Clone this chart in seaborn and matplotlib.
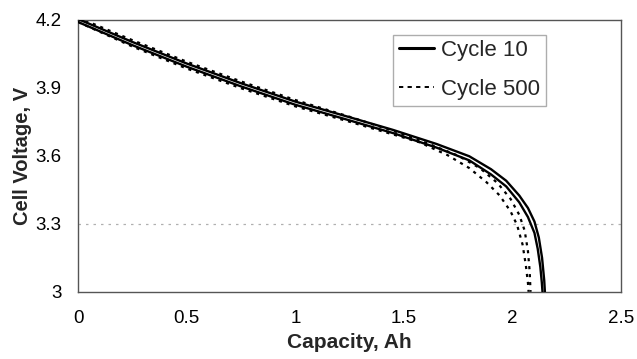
import matplotlib
matplotlib.use("Agg")
import matplotlib.pyplot as plt
import seaborn as sns
import pandas as pd
from matplotlib.lines import Line2D

# ---- data ----
q_c10a = [0, 0.25, 0.5, 0.75, 1.0, 1.25, 1.45, 1.65, 1.8, 1.9, 1.97, 2.03, 2.07, 2.1, 2.12, 2.135, 2.145, 2.148]
v_c10a = [4.203, 4.102, 4.007, 3.920, 3.839, 3.770, 3.714, 3.652, 3.598, 3.541, 3.490, 3.425, 3.37, 3.31, 3.24, 3.15, 3.05, 3.0]

q_c10b = [0, 0.25, 0.5, 0.75, 1.0, 1.25, 1.45, 1.65, 1.8, 1.9, 1.97, 2.03, 2.07, 2.1, 2.115, 2.127, 2.134, 2.137]
v_c10b = [4.19, 4.088, 3.993, 3.906, 3.825, 3.756, 3.700, 3.636, 3.580, 3.518, 3.465, 3.395, 3.33, 3.26, 3.19, 3.11, 3.04, 3.0]

q_c500a = [0, 0.25, 0.5, 0.75, 1.0, 1.25, 1.45, 1.6, 1.75, 1.85, 1.93, 1.99, 2.03, 2.055, 2.07, 2.078, 2.082]
v_c500a = [4.21, 4.11, 4.015, 3.928, 3.846, 3.772, 3.71, 3.658, 3.6, 3.545, 3.48, 3.41, 3.34, 3.27, 3.18, 3.09, 3.0]

q_c500b = [0, 0.25, 0.5, 0.75, 1.0, 1.25, 1.45, 1.57, 1.7, 1.8, 1.88, 1.94, 1.99, 2.02, 2.045, 2.06, 2.07, 2.073]
v_c500b = [4.19, 4.082, 3.985, 3.898, 3.818, 3.75, 3.694, 3.66, 3.603, 3.546, 3.483, 3.425, 3.355, 3.295, 3.21, 3.12, 3.04, 3.0]

legend_labels = ["Cycle 10", "Cycle 500"]
x_ticks = [0, 0.5, 1, 1.5, 2, 2.5]
x_ticklabels = ["0", "0.5", "1", "1.5", "2", "2.5"]
y_ticks = [3, 3.3, 3.6, 3.9, 4.2]
y_ticklabels = ["3", "3.3", "3.6", "3.9", "4.2"]
cutoff_voltage = 3.3

# ---- plot ----
sns.set_style("white")
plt.rcParams["font.family"] = ["Liberation Sans", "DejaVu Sans"]

fig = plt.figure(figsize=(6.37, 3.59), dpi=100)
ax = fig.add_axes([0.1225, 0.187, 0.853, 0.758])

ax.axhline(cutoff_voltage, color="#b0b0b0", linestyle=(0, (2, 4)), linewidth=0.9, zorder=1)

curves = [
    (q_c500a, v_c500a, "dash"),
    (q_c500b, v_c500b, "dash"),
    (q_c10a, v_c10a, "solid"),
    (q_c10b, v_c10b, "solid"),
]
for q, v, style in curves:
    df = pd.DataFrame({"q": q, "v": v})
    if style == "solid":
        sns.lineplot(data=df, x="q", y="v", ax=ax, color="black", linewidth=1.7,
                     sort=False, estimator=None, zorder=3)
    else:
        sns.lineplot(data=df, x="q", y="v", ax=ax, color="black", linewidth=1.6,
                     linestyle=(0, (1.4, 2.2)), sort=False, estimator=None, zorder=2)

ax.set_xlim(0, 2.5)
ax.set_ylim(3, 4.2)
ax.set_xticks(x_ticks)
ax.set_xticklabels(x_ticklabels)
ax.set_yticks(y_ticks)
ax.set_yticklabels(y_ticklabels)
ax.tick_params(axis="both", direction="out", length=5, width=0.8, colors="#555555",
               labelsize=13.5, labelcolor="black")
ax.tick_params(axis="x", pad=8)
ax.tick_params(axis="y", pad=7)

for s in ax.spines.values():
    s.set_color("#555555")
    s.set_linewidth(1.0)
    s.set_visible(True)

ax.set_xlabel("Capacity, Ah", fontsize=15, fontweight="bold")
ax.set_ylabel("Cell Voltage, V", fontsize=14.5, fontweight="bold", va="center")
ax.xaxis.set_label_coords(0.5, -0.152)
ax.yaxis.set_label_coords(-0.103, 0.5)

handles = [
    Line2D([], [], color="black", linewidth=2.2),
    Line2D([], [], color="black", linewidth=1.4, linestyle=(0, (2.2, 2.2))),
]
leg = ax.legend(handles, legend_labels, loc="upper left", bbox_to_anchor=(0.580, 0.945),
                fontsize=16, frameon=True, fancybox=False, handlelength=1.6,
                handletextpad=0.3, borderpad=0.25, labelspacing=0.8, borderaxespad=0)
leg.get_frame().set_edgecolor("#999999")
leg.get_frame().set_linewidth(1.0)

fig.savefig("out.png", dpi=100)
